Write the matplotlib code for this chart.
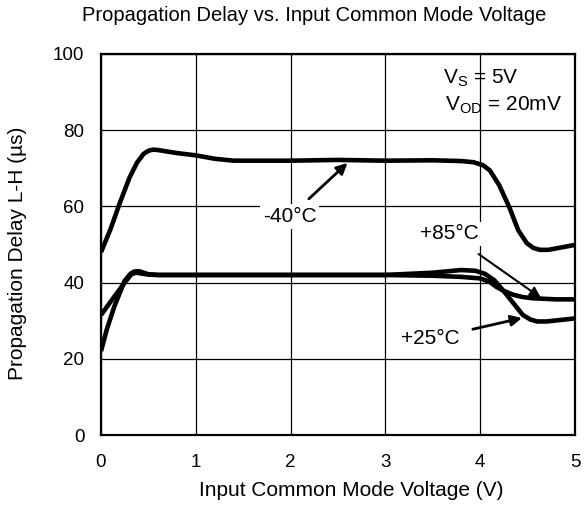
import matplotlib
matplotlib.use('Agg')
import matplotlib.pyplot as plt

plt.rcParams['font.family'] = ['Liberation Sans', 'DejaVu Sans']
plt.rcParams['mathtext.fontset'] = 'custom'
plt.rcParams['mathtext.rm'] = 'Liberation Sans'

# -40C curve
x_m40 = [0, 0.1, 0.2, 0.3, 0.38, 0.45, 0.5, 0.55, 0.6, 0.7, 0.8, 1.0, 1.2, 1.4, 2.0, 2.5, 3.0,
         3.5, 3.8, 3.93, 4.03, 4.1, 4.2, 4.31, 4.4, 4.49, 4.56, 4.63, 4.72, 4.85, 5.0]
y_m40 = [48, 54, 61, 67.5, 71.5, 73.8, 74.6, 74.9, 74.8, 74.4, 74, 73.4, 72.5, 72, 72, 72.2, 72,
         72.1, 71.9, 71.6, 70.8, 69.5, 65.6, 59.6, 53.8, 50.4, 49.1, 48.6, 48.6, 49.2, 49.9]

# +25C curve
x_25 = [0, 0.06, 0.14, 0.25, 0.31, 0.35, 0.4, 0.45, 0.5, 0.6, 1.0, 2.0, 3.0, 3.5, 3.8, 3.95,
        4.05, 4.15, 4.25, 4.35, 4.45, 4.53, 4.6, 4.7, 4.85, 5.0]
y_25 = [22, 27.6, 33.7, 40.5, 42.3, 42.9, 43, 42.6, 42.2, 42, 42, 42, 42, 42.6, 43.3, 43.1,
        42.3, 40.6, 37.7, 34.6, 31.5, 30.3, 29.8, 29.8, 30.2, 30.6]

# +85C curve
x_85 = [0, 0.14, 0.25, 0.32, 0.37, 0.42, 0.5, 0.6, 1.0, 2.0, 3.0, 3.5, 3.8, 4.0, 4.1, 4.17,
        4.25, 4.35, 4.45, 4.55, 4.63, 4.8, 5.0]
y_85 = [31.5, 36.3, 40, 42.2, 42.6, 42.4, 42.1, 42, 42, 42, 42, 41.8, 41.5, 41.1, 40.2, 38.9,
        37.8, 36.8, 36.2, 35.9, 35.8, 35.6, 35.6]

xticks = [0, 1, 2, 3, 4, 5]
yticks = [0, 20, 40, 60, 80, 100]

fig = plt.figure(figsize=(5.85, 5.11), dpi=100)
ax = fig.add_axes([101/585, 1 - 435/511, 474/585, 381/511])

for xs, ys in [(x_m40, y_m40), (x_25, y_25), (x_85, y_85)]:
    ax.plot(xs, ys, color='black', lw=3.3, solid_capstyle='butt',
            solid_joinstyle='round', zorder=3)

ax.set_xlim(0, 5)
ax.set_ylim(0, 100)
ax.set_xticks(xticks)
ax.set_yticks(yticks)
ax.tick_params(labelsize=13.5, length=0)
ax.tick_params(axis='x', pad=14)
ax.tick_params(axis='y', pad=12)
ax.grid(True, color='black', lw=0.9)
for s in ax.spines.values():
    s.set_linewidth(1.6)
    s.set_zorder(4)

fig.text(351/585, 1 - 490/511, 'Input Common Mode Voltage (V)',
         ha='center', va='center', fontsize=15)
fig.text(18/585, 1 - 253/511, 'Propagation Delay L-H (µs)',
         ha='center', va='center', rotation=90, fontsize=15)
fig.text(314/585, 1 - 15/511, 'Propagation Delay vs. Input Common Mode Voltage',
         ha='center', va='center', fontsize=14.5)

box = dict(facecolor='white', edgecolor='none', pad=2)
ax.annotate('-40°C', xy=(2.6, 71.4), xytext=(1.99, 57.3), fontsize=15,
            ha='center', va='center', bbox=box, zorder=5,
            arrowprops=dict(arrowstyle='-|>', lw=2, color='black',
                            mutation_scale=16, shrinkA=6, shrinkB=0))
ax.annotate('+85°C', xy=(4.64, 36), xytext=(3.68, 52.8), fontsize=15,
            ha='center', va='center', bbox=box, zorder=5,
            arrowprops=dict(arrowstyle='-|>', lw=1.5, color='black',
                            mutation_scale=16, shrinkA=10, shrinkB=0))
ax.annotate('+25°C', xy=(4.44, 30.7), xytext=(3.47, 25.2), fontsize=15,
            ha='center', va='center', bbox=box, zorder=5,
            arrowprops=dict(arrowstyle='-|>', lw=2, color='black',
                            mutation_scale=16, shrinkA=8, shrinkB=0))

ax.text(3.61, 93.7, r'V$_\mathregular{S}$ = 5V', fontsize=15, ha='left', va='center', zorder=5)
ax.text(3.63, 86.6, r'V$_\mathregular{OD}$ = 20mV', fontsize=15, ha='left', va='center', zorder=5)

fig.savefig('out.png', dpi=100)
